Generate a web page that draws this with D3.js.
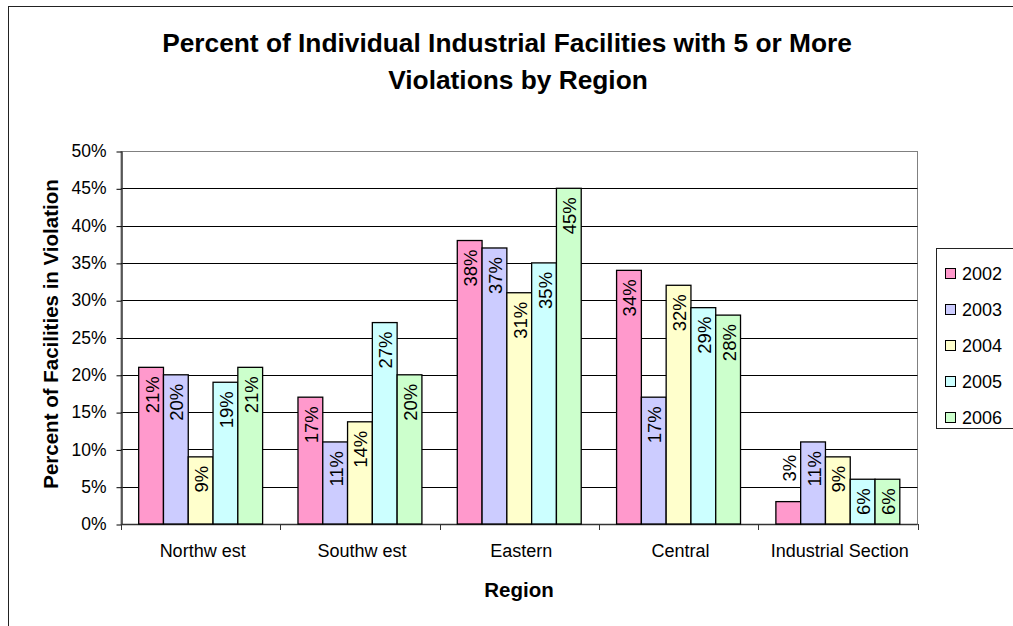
<!DOCTYPE html>
<html>
<head>
<meta charset="utf-8">
<script src="https://cdn.jsdelivr.net/npm/d3@7"></script>
<style>
  body { margin: 0; background: #fff; }
  text { font-family: "Liberation Sans", Arial, sans-serif; fill: #000; }
</style>
</head>
<body>
<svg width="1013" height="626"></svg>
<script>
// chart data
const regions = ["Northw est", "Southw est", "Eastern", "Central", "Industrial Section"];
const years = ["2002", "2003", "2004", "2005", "2006"];
const v2002 = [21, 17, 38, 34, 3];
const v2003 = [20, 11, 37, 17, 11];
const v2004 = [9, 13.7, 31, 32, 9];
const v2005 = [19, 27, 35, 29, 6];
const v2006 = [21, 20, 45, 28, 6];
const yTicks = [0, 5, 10, 15, 20, 25, 30, 35, 40, 45, 50];
const colors = ["#FF99CC", "#CCCCFF", "#FFFFCC", "#CCFFFF", "#CCFFCC"];

const series = [v2002, v2003, v2004, v2005, v2006];

const svg = d3.select("svg");

// plot area
const plot = { left: 121, right: 917.5, top: 151, bottom: 524 };

// outer chart border
svg.append("rect")
  .attr("x", 8.5).attr("y", 6.5)
  .attr("width", 1100).attr("height", 700)
  .attr("fill", "none").attr("stroke", "#222").attr("stroke-width", 1);

// scales
const x0 = d3.scaleBand()
  .domain(regions)
  .range([plot.left, plot.right]);

const x1 = d3.scaleBand()
  .domain(years)
  .range([x0.step() * 0.111, x0.step() * 0.889]);

const y = d3.scaleLinear()
  .domain([0, 50])
  .range([plot.bottom, plot.top]);

// plot area border (gray)
svg.append("rect")
  .attr("x", plot.left).attr("y", Math.round(y(50)) + 0.5)
  .attr("width", plot.right - plot.left).attr("height", plot.bottom - Math.round(y(50)))
  .attr("fill", "none").attr("stroke", "#808080");

// gridlines
svg.append("g").selectAll("line")
  .data(yTicks.filter(d => d > 0 && d < 50))
  .join("line")
    .attr("x1", plot.left).attr("x2", plot.right)
    .attr("y1", d => Math.round(y(d)) + 0.5)
    .attr("y2", d => Math.round(y(d)) + 0.5)
    .attr("stroke", "#000");

// y axis
const yAxis = svg.append("g")
  .attr("transform", `translate(${plot.left + 0.5},0)`)
  .call(d3.axisLeft(y).tickValues(yTicks).tickSize(5).tickSizeOuter(0)
    .tickFormat(d => d + "%"));
yAxis.select(".domain").attr("stroke", "#333").attr("stroke-width", 1.5);
yAxis.selectAll(".tick line").attr("stroke", "#000")
  .attr("transform", "translate(0,0.5)");
yAxis.selectAll(".tick text")
  .attr("x", -15)
  .attr("font-size", 17.5)
  .attr("font-family", "Liberation Sans, Arial, sans-serif")
  .attr("fill", "#000");

// x axis with ticks at category boundaries
const xAxisG = svg.append("g");
xAxisG.append("line")
  .attr("x1", plot.left).attr("x2", plot.right)
  .attr("y1", plot.bottom + 0.5).attr("y2", plot.bottom + 0.5)
  .attr("stroke", "#333").attr("stroke-width", 1.5);
const bounds = regions.map(r => x0(r)).concat([x0.range()[1]]);
xAxisG.selectAll(".xtick")
  .data(bounds)
  .join("line")
    .attr("class", "xtick")
    .attr("x1", d => Math.round(d) + 0.5).attr("x2", d => Math.round(d) + 0.5)
    .attr("y1", plot.bottom).attr("y2", plot.bottom + 6)
    .attr("stroke", "#333");
xAxisG.selectAll(".xlabel")
  .data(regions)
  .join("text")
    .attr("class", "xlabel")
    .attr("x", d => x0(d) + x0.bandwidth() / 2 + 2)
    .attr("y", 557)
    .attr("text-anchor", "middle")
    .attr("font-size", 18)
    .text(d => d);

// bars
const groups = svg.append("g").selectAll("g")
  .data(regions)
  .join("g")
    .attr("transform", d => `translate(${x0(d)},0)`);

const cells = groups.selectAll("g")
  .data((r, i) => years.map((yr, k) => ({ region: r, year: yr, k: k, value: series[k][i] })))
  .join("g");

cells.append("rect")
  .attr("x", d => x1(d.year))
  .attr("y", d => y(d.value))
  .attr("width", x1.bandwidth())
  .attr("height", d => y(0) - y(d.value))
  .attr("fill", d => colors[d.k])
  .attr("stroke", "#000")
  .attr("stroke-width", 1.3);

// data labels, rotated
cells.append("text")
  .attr("transform", d => {
    const cx = x1(d.year) + x1.bandwidth() / 2 + 1;
    return `translate(${cx},${y(d.value)}) rotate(-90)`;
  })
  .attr("x", d => (y(0) - y(d.value)) < 35 ? 20 : -9)
  .attr("text-anchor", d => (y(0) - y(d.value)) < 35 ? "start" : "end")
  .attr("dominant-baseline", "central")
  .attr("font-size", 18.5)
  .text(d => Math.round(d.value) + "%");

// title
svg.append("text")
  .attr("x", 507).attr("y", 52)
  .attr("text-anchor", "middle")
  .attr("font-size", 26.3).attr("font-weight", "bold")
  .text("Percent of Individual Industrial Facilities with 5 or More");
svg.append("text")
  .attr("x", 518).attr("y", 89)
  .attr("text-anchor", "middle")
  .attr("font-size", 26.3).attr("font-weight", "bold")
  .text("Violations by Region");

// axis titles
svg.append("text")
  .attr("x", 519).attr("y", 597)
  .attr("text-anchor", "middle")
  .attr("font-size", 20.5).attr("font-weight", "bold")
  .text("Region");
svg.append("text")
  .attr("transform", "translate(58,334) rotate(-90)")
  .attr("text-anchor", "middle")
  .attr("font-size", 20.5).attr("font-weight", "bold")
  .text("Percent of Facilities in Violation");

// legend
const legend = svg.append("g");
legend.append("rect")
  .attr("x", 936.5).attr("y", 248.5)
  .attr("width", 120).attr("height", 180)
  .attr("fill", "#fff").attr("stroke", "#222");
const items = legend.selectAll(".item")
  .data(years)
  .join("g")
    .attr("class", "item")
    .attr("transform", (d, i) => `translate(945,${273.5 + i * 36})`);
items.append("rect")
  .attr("x", 0.5).attr("y", -5)
  .attr("width", 10).attr("height", 10)
  .attr("fill", (d, i) => colors[i])
  .attr("stroke", "#000");
items.append("text")
  .attr("x", 17).attr("y", 0)
  .attr("dy", "0.35em")
  .attr("font-size", 18)
  .text(d => d);
</script>
</body>
</html>
